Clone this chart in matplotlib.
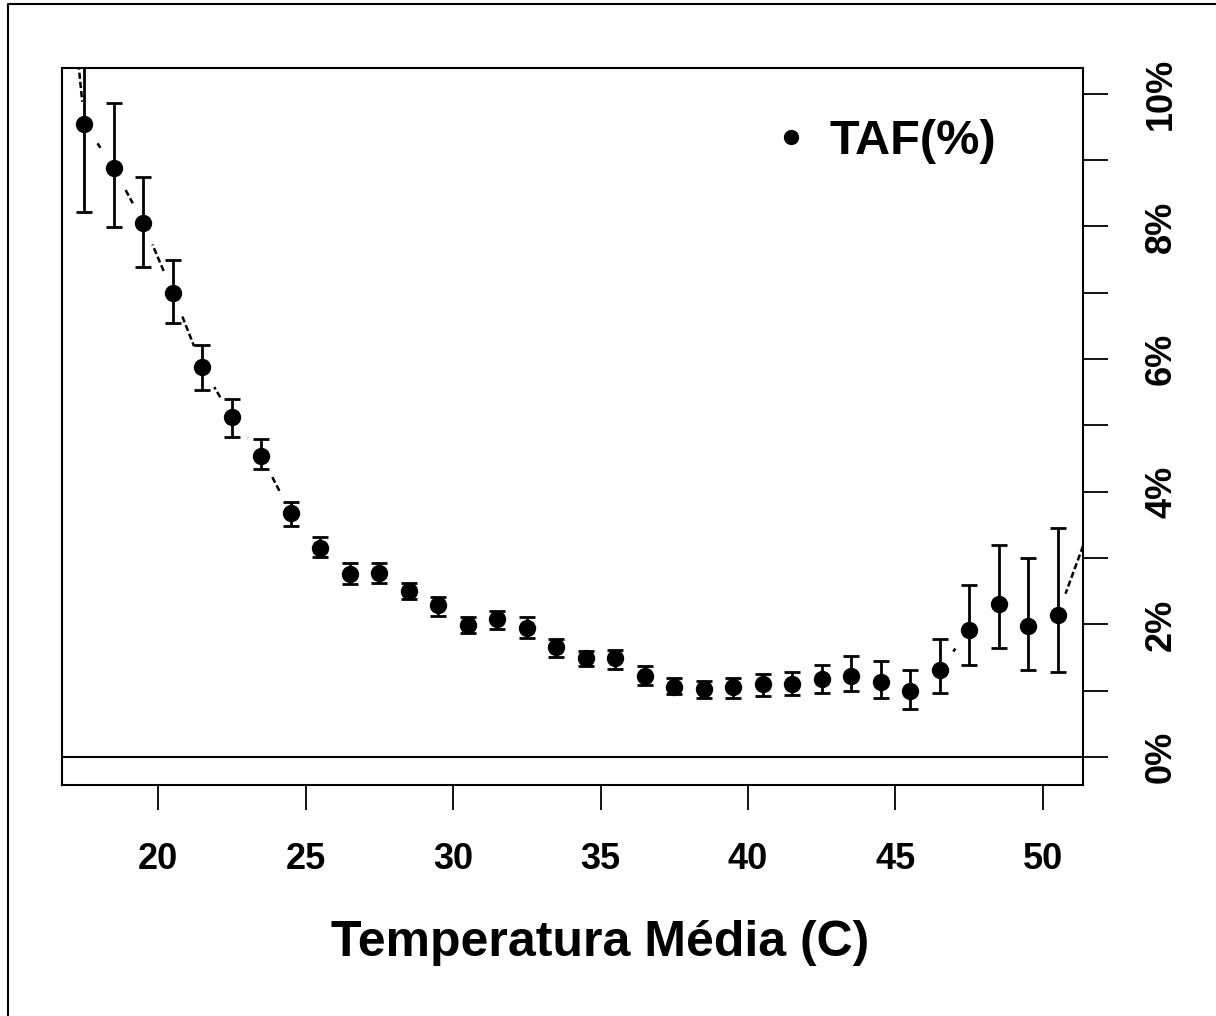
import matplotlib.pyplot as plt
from matplotlib.lines import Line2D
import numpy as np

plt.rcParams['font.family'] = ['Liberation Sans', 'DejaVu Sans']
plt.rcParams['font.weight'] = 'bold'

# temperatura media (C) e TAF (%) com intervalo
temp = np.arange(17.5, 51.0, 1.0)
taf = [9.55, 8.88, 8.05, 7.00, 5.88, 5.13, 4.54, 3.68, 3.15, 2.76, 2.78, 2.50,
       2.29, 1.99, 2.08, 1.95, 1.66, 1.49, 1.49, 1.22, 1.06, 1.03, 1.06, 1.10,
       1.10, 1.18, 1.22, 1.13, 1.00, 1.31, 1.92, 2.31, 1.98, 2.14]
taf_hi = [10.9, 9.86, 8.75, 7.50, 6.21, 5.40, 4.80, 3.85, 3.32, 2.93, 2.93, 2.63,
          2.41, 2.11, 2.20, 2.11, 1.78, 1.60, 1.61, 1.37, 1.19, 1.15, 1.19, 1.25,
          1.28, 1.39, 1.52, 1.45, 1.31, 1.78, 2.59, 3.20, 3.00, 3.45]
taf_lo = [8.22, 7.99, 7.39, 6.55, 5.54, 4.83, 4.34, 3.48, 3.02, 2.61, 2.63, 2.38,
          2.13, 1.87, 1.93, 1.80, 1.51, 1.37, 1.33, 1.09, 0.95, 0.89, 0.89, 0.92,
          0.94, 0.97, 0.99, 0.89, 0.72, 0.97, 1.39, 1.64, 1.31, 1.28]
# linha tracejada: mesmos pontos + classes fora do grafico
line_x = [16.5] + list(temp) + [51.5]
line_y = [14.0] + taf + [3.35]

yticks = np.arange(0, 11, 1)
ylabels = ['%d%%' % t if t % 2 == 0 else '' for t in yticks]
xticks = [20, 25, 30, 35, 40, 45, 50]

fig = plt.figure(figsize=(12.16, 10.16), dpi=100)
ax = fig.add_axes([0.051, 0.2274, 0.8396, 0.7057])

taf = np.array(taf)
err = [taf - np.array(taf_lo), np.array(taf_hi) - taf]

ax.plot(line_x, line_y, color='black', lw=1.8, ls=(0, (2.5, 1.2)), zorder=1)
ax.plot(temp, taf, 'o', color='white', ms=32, zorder=2)
ax.errorbar(temp, taf, yerr=err, fmt='none', ecolor='black', elinewidth=2,
            capsize=6, capthick=2, zorder=3)
ax.plot(temp, taf, 'o', color='black', ms=11.5, zorder=4)
ax.axhline(0, color='black', lw=1.5, zorder=1)

ax.set_xlim(16.74, 51.36)
ax.set_ylim(-0.42, 10.39)

ax.set_xticks(xticks)
ax.set_xticklabels([str(t) for t in xticks])
ax.yaxis.tick_right()
ax.set_yticks(yticks)
ax.set_yticklabels(ylabels, rotation=90, va='center')
ax.tick_params(axis='x', length=18, width=1.3, pad=23, labelsize=26)
ax.tick_params(axis='y', length=18, width=1.3, pad=26, labelsize=26)
for s in ax.spines.values():
    s.set_linewidth(1.5)

ax.set_xlabel('Temperatura Média (C)', fontsize=36, fontweight='bold')
ax.xaxis.set_label_coords(0.527, -0.22)
ax.xaxis.label.set_va('center')

handle = Line2D([], [], marker='o', ls='none', color='black', ms=10)
ax.legend([handle], ['TAF(%)'], loc='center left', bbox_to_anchor=(0.69, 0.897),
          frameon=False, prop={'size': 35, 'weight': 'bold'},
          handlelength=1.0, handletextpad=0.3, borderpad=0, borderaxespad=0)

# cadre externe
fig.add_artist(Line2D([0.0066, 0.0066, 1.0], [0.0, 0.996, 0.996],
                      transform=fig.transFigure, color='black', lw=1.5))

fig.savefig('out.png', dpi=100)
